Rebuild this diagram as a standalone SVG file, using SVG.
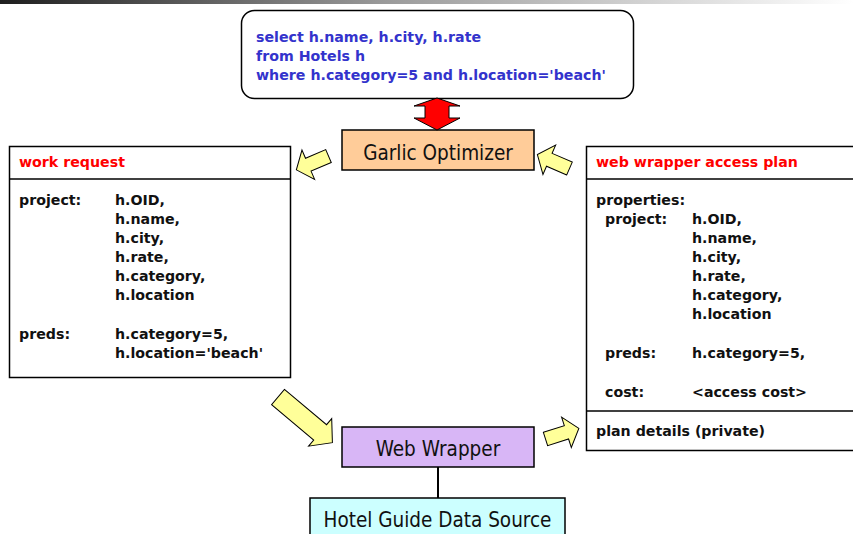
<svg xmlns="http://www.w3.org/2000/svg" width="853" height="534" viewBox="0 0 853 534">
<defs>
<linearGradient id="bar" x1="0" y1="0" x2="1" y2="0">
<stop offset="0" stop-color="#1e1e1e"/>
<stop offset="0.45" stop-color="#9a9a9a"/>
<stop offset="1" stop-color="#ffffff"/>
</linearGradient>
<path id="sa" d="M0,-7 L22,-7 L22,-16 L35,0 L22,16 L22,7 L0,7 Z"/>
<path id="la" d="M0,-10 L55,-10 L55,-18 L71,0 L55,18 L55,10 L0,10 Z"/>
</defs>
<style>
.b{font-family:"DejaVu Sans","Liberation Sans",sans-serif;font-weight:bold;font-size:14.2px;fill:#111}
.q{fill:#3333CC}
.r{fill:#FF0000}
.t{font-family:"DejaVu Sans Condensed","DejaVu Sans","Liberation Sans",sans-serif;font-stretch:condensed;font-size:20.5px;fill:#111;text-anchor:middle}
.box{fill:#fff;stroke:#000;stroke-width:1.5}
.ya{fill:#FFFF99;stroke:#000;stroke-width:1}
</style>
<rect x="0" y="0" width="853" height="4" fill="url(#bar)"/>

<g id="query">
<rect class="box" x="241.5" y="10.5" width="392" height="88" rx="13"/>
<text class="b q" x="256" y="42">select h.name, h.city, h.rate</text>
<text class="b q" x="256" y="61">from Hotels h</text>
<text class="b q" x="256" y="80">where h.category=5 and h.location='beach'</text>
</g>

<g id="optimizer">
<rect x="342" y="130" width="192" height="40" fill="#FFCC99" stroke="#000" stroke-width="1.5"/>
<text class="t" x="438" y="160">Garlic Optimizer</text>
</g>

<g id="work-request">
<rect class="box" x="9.5" y="146.5" width="281" height="231"/>
<line x1="9.5" y1="179" x2="290.5" y2="179" stroke="#000" stroke-width="1.5"/>
<text class="b r" x="19" y="167">work request</text>
<text class="b" x="19" y="205">project:</text>
<text class="b" x="115" y="205">h.OID,</text>
<text class="b" x="115" y="224">h.name,</text>
<text class="b" x="115" y="243">h.city,</text>
<text class="b" x="115" y="262">h.rate,</text>
<text class="b" x="115" y="281">h.category,</text>
<text class="b" x="115" y="300">h.location</text>
<text class="b" x="19" y="339">preds:</text>
<text class="b" x="115" y="339">h.category=5,</text>
<text class="b" x="115" y="358">h.location='beach'</text>
</g>

<g id="access-plan">
<rect class="box" x="586.5" y="146.5" width="270" height="304"/>
<line x1="586.5" y1="179" x2="856" y2="179" stroke="#000" stroke-width="1.5"/>
<line x1="586.5" y1="411" x2="856" y2="411" stroke="#000" stroke-width="1.5"/>
<text class="b r" x="596" y="167">web wrapper access plan</text>
<text class="b" x="596" y="205">properties:</text>
<text class="b" x="605" y="224">project:</text>
<text class="b" x="692" y="224">h.OID,</text>
<text class="b" x="692" y="243">h.name,</text>
<text class="b" x="692" y="262">h.city,</text>
<text class="b" x="692" y="281">h.rate,</text>
<text class="b" x="692" y="300">h.category,</text>
<text class="b" x="692" y="319">h.location</text>
<text class="b" x="605" y="358">preds:</text>
<text class="b" x="692" y="358">h.category=5,</text>
<text class="b" x="605" y="397">cost:</text>
<text class="b" x="692" y="397">&lt;access cost&gt;</text>
<text class="b" x="596" y="436">plan details (private)</text>
</g>

<g id="web-wrapper">
<rect x="342" y="427" width="192" height="40" fill="#D8B6F6" stroke="#000" stroke-width="1.5"/>
<text class="t" x="438" y="456">Web Wrapper</text>
</g>

<g id="data-source">
<rect x="310" y="498" width="255" height="40" fill="#CCFFFF" stroke="#000" stroke-width="1.5"/>
<text class="t" x="437.5" y="527">Hotel Guide Data Source</text>
</g>

<g id="connectors">
<path d="M437,98 L460,106 L449,106 L449,118 L460,118 L437,130 L414,118 L425,118 L425,106 L414,106 Z" fill="#FF0000" stroke="#000" stroke-width="1"/>
<use href="#sa" class="ya" transform="translate(328.5,156) rotate(156.7)"/>
<use href="#sa" class="ya" transform="translate(569.5,168.5) rotate(-156.6)"/>
<use href="#la" class="ya" transform="translate(278,397) rotate(40)"/>
<use href="#sa" class="ya" transform="translate(545.5,439) rotate(-17.7)"/>
<line x1="438" y1="467" x2="438" y2="498" stroke="#000" stroke-width="2"/>
</g>
</svg>
